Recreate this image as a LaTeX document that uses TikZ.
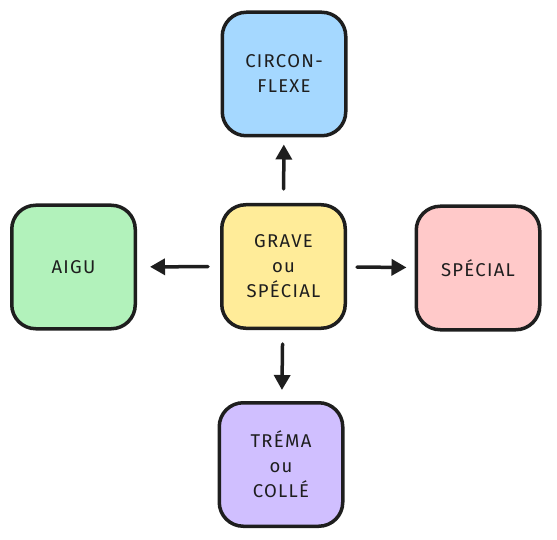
\documentclass[tikz,border=0pt]{standalone}
\usepackage{fontspec}
\setmainfont{Fira Sans}[LetterSpace=7]
\usetikzlibrary{arrows.meta}

\definecolor{ink}{HTML}{1E1E1E}
\definecolor{blueA}{HTML}{A5D8FF}
\definecolor{yellowA}{HTML}{FFEC99}
\definecolor{greenA}{HTML}{B2F2BB}
\definecolor{pinkA}{HTML}{FFC9C9}
\definecolor{purpleA}{HTML}{D0BFFF}

\tikzset{
  accent/.style={draw=ink, line width=3.5pt, rounded corners=24pt,
    minimum width=123.5pt, minimum height=123.5pt, align=center,
    text=ink, font=\fontsize{18.5}{25}\selectfont},
  arr/.style={draw=ink, line width=3.5pt, line cap=round,
    -{Triangle[length=15pt,width=16pt]}}
}

\begin{document}
\begin{tikzpicture}[x=1pt,y=-1pt]
\useasboundingbox (0,0) rectangle (557,540);

\node[accent,fill=yellowA] (grave) at (283.5,266.5) {GRAVE\\ou\\SPÉCIAL}; %center
\node[accent,fill=blueA]   (circ)  at (284,74)      {CIRCON-\\FLEXE}; %top
\node[accent,fill=greenA]  (aigu)  at (73.5,267)    {AIGU}; %left
\node[accent,fill=pinkA]   (spec)  at (478,268)     {SPÉCIAL}; %right
\node[accent,fill=purpleA] (trema) at (281,464.5)   {TRÉMA\\ou\\COLLÉ}; %bottom

\draw[arr,shorten <=14pt,shorten >=7pt]  (grave) -- (circ); %up
\draw[arr,shorten <=12pt,shorten >=13pt] (grave) -- (aigu); %left
\draw[arr,shorten <=10pt,shorten >=8pt]  (grave) -- (spec); %right
\draw[arr,shorten <=14pt,shorten >=11pt] (grave) -- (trema); %down
\end{tikzpicture}
\end{document}
